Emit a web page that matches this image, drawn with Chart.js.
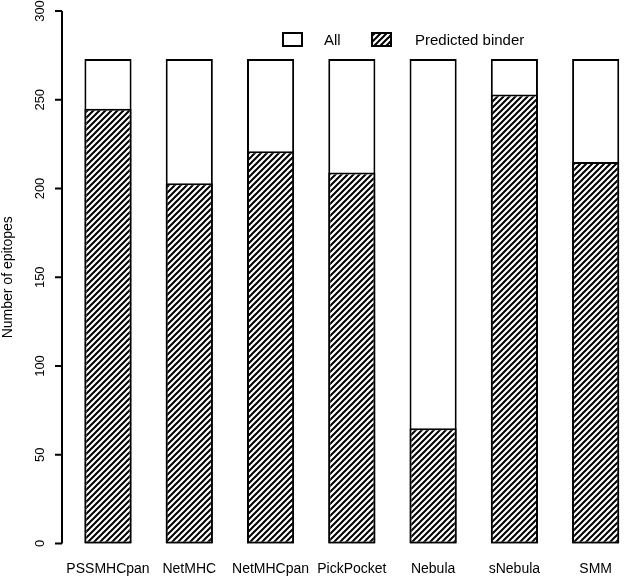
<!DOCTYPE html>
<html>
<head>
<meta charset="utf-8">
<script src="https://cdn.jsdelivr.net/npm/chart.js@4.4.1/dist/chart.umd.min.js"></script>
<style>
  body { margin: 0; background: #fff; }
  canvas { display: block; }
</style>
</head>
<body>
<canvas id="chart" width="629" height="576"></canvas>
<script>
// data
const methods = ['PSSMHCpan', 'NetMHC', 'NetMHCpan', 'PickPocket', 'Nebula', 'sNebula', 'SMM'];
const allEpitopes = [273, 273, 273, 273, 273, 273, 273];
const predictedBinders = [245, 203, 221, 209, 65, 253, 215];
const yTicks = [0, 50, 100, 150, 200, 250, 300];
const legendLabels = ['All', 'Predicted binder'];
const yTitle = 'Number of epitopes';

const FONT_FAMILY = '"Liberation Sans", Arial, sans-serif';

const canvas = document.getElementById('chart');
const ctx = canvas.getContext('2d');

// diagonal hatch like R's density/angle fill
function makeHatch() {
    const size = 6;
    const tile = document.createElement('canvas');
    tile.width = size;
    tile.height = size;
    const g = tile.getContext('2d');
    g.fillStyle = '#fff';
    g.fillRect(0, 0, size, size);
    g.strokeStyle = '#000';
    g.lineWidth = 2;
    g.beginPath();
    g.moveTo(-1, size + 1); g.lineTo(size + 1, -1);
    g.moveTo(-1, 1); g.lineTo(1, -1);
    g.moveTo(size - 1, size + 1); g.lineTo(size + 1, size - 1);
    g.stroke();
    return ctx.createPattern(tile, 'repeat');
}
const hatch = makeHatch();

// y axis, rotated tick labels, title and legend drawn R-style
const baseGraphics = {
    id: 'baseGraphics',
    afterDraw(chart) {
        const c = chart.ctx;
        const y = chart.scales.y;
        const axisX = 62;
        c.save();
        c.strokeStyle = '#000';
        c.lineWidth = 2;
        c.beginPath();
        c.moveTo(axisX, y.getPixelForValue(yTicks[0]));
        c.lineTo(axisX, y.getPixelForValue(yTicks[yTicks.length - 1]));
        yTicks.forEach(v => {
            const py = y.getPixelForValue(v);
            c.moveTo(axisX, py);
            c.lineTo(axisX - 7, py);
        });
        c.stroke();

        c.fillStyle = '#000';
        c.font = '13px ' + FONT_FAMILY;
        c.textAlign = 'center';
        c.textBaseline = 'alphabetic';
        yTicks.forEach(v => {
            c.save();
            c.translate(44, y.getPixelForValue(v));
            c.rotate(-Math.PI / 2);
            c.fillText(String(v), 0, 0);
            c.restore();
        });

        c.font = '14px ' + FONT_FAMILY;
        c.save();
        c.translate(12, (y.top + y.bottom) / 2);
        c.rotate(-Math.PI / 2);
        c.fillText(yTitle, 0, 0);
        c.restore();

        // legend
        c.lineWidth = 2;
        c.fillStyle = '#fff';
        c.fillRect(283, 33, 19, 13);
        c.strokeRect(283, 33, 19, 13);
        c.fillStyle = hatch;
        c.fillRect(372, 33, 19, 13);
        c.strokeRect(372, 33, 19, 13);
        c.fillStyle = '#000';
        c.font = '15px ' + FONT_FAMILY;
        c.textAlign = 'left';
        c.fillText(legendLabels[0], 324, 45);
        c.fillText(legendLabels[1], 415, 45);
        c.restore();
    }
};

const chart = new Chart(ctx, {
    type: 'bar',
    data: {
        labels: methods,
        datasets: [
            {
                label: legendLabels[1],
                data: predictedBinders,
                backgroundColor: hatch,
                borderColor: '#000',
                borderWidth: 2,
                borderSkipped: false,
                order: 0,
                grouped: false,
                clip: false
            },
            {
                label: legendLabels[0],
                data: allEpitopes,
                backgroundColor: '#fff',
                borderColor: '#000',
                borderWidth: 2,
                borderSkipped: false,
                order: 1,
                grouped: false,
                clip: false
            }
        ]
    },
    options: {
        responsive: false,
        animation: false,
        layout: { padding: { left: 108, right: 25, top: 11, bottom: 0 } },
        datasets: { bar: { categoryPercentage: 1, barPercentage: 0.58 } },
        plugins: { legend: { display: false }, tooltip: { enabled: false } },
        scales: {
            x: {
                type: 'category',
                offset: false,
                grid: { display: false, drawTicks: false },
                border: { display: false },
                ticks: {
                    color: '#000',
                    font: { family: FONT_FAMILY, size: 14 },
                    padding: 17,
                    autoSkip: false,
                    maxRotation: 0
                },
                afterFit: (scale) => { scale.height = 32.5; }
            },
            y: {
                display: false,
                min: 0,
                max: 300
            }
        }
    },
    plugins: [baseGraphics]
});
</script>
</body>
</html>
